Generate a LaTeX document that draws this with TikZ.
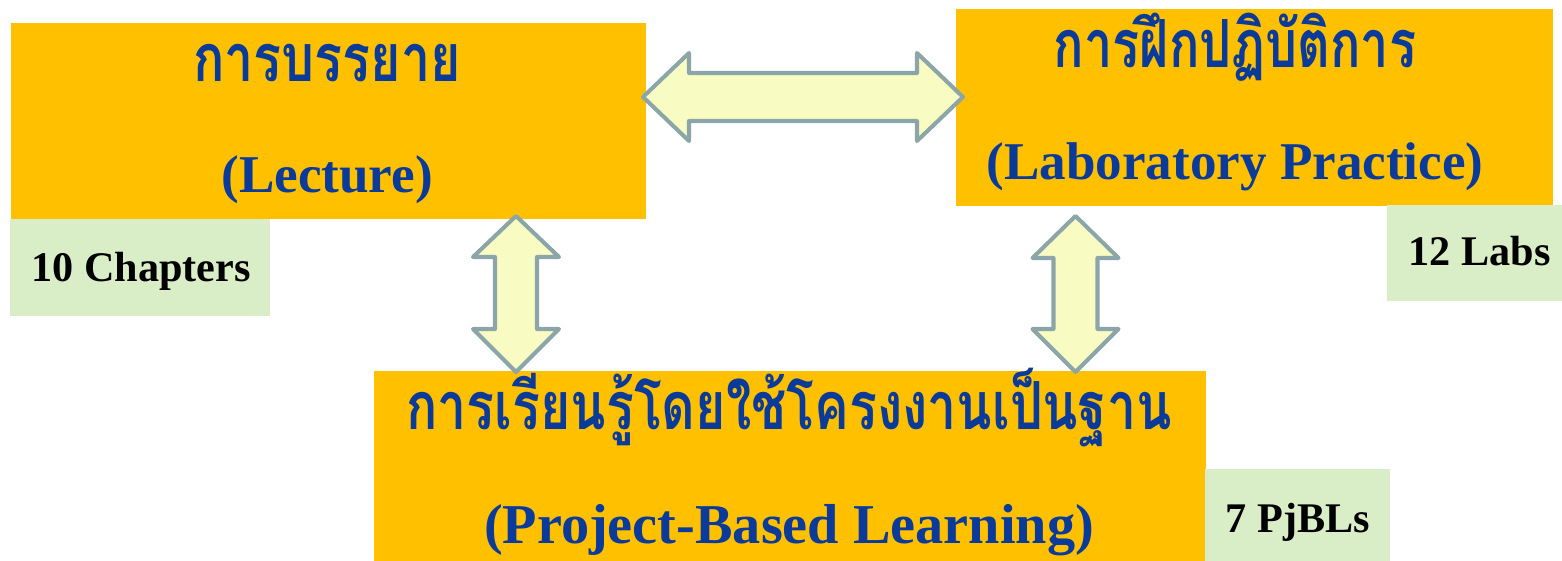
\documentclass[tikz,border=0pt]{standalone}
\usepackage{fontspec}
\setmainfont{Liberation Serif}
\newfontfamily\thaifont[Script=Thai]{Loma}
\definecolor{boxorange}{HTML}{FFC000}
\definecolor{boxgreen}{HTML}{D9EDC6}
\definecolor{arrowfill}{HTML}{F8FCC2}
\definecolor{arrowline}{HTML}{8BA5A8}
\definecolor{titleblue}{HTML}{0A3A9A}
\newcommand{\thstretch}[2]{\scalebox{#1}[1.25]{#2}}
\tikzset{
  obox/.style={fill=boxorange, draw=none, inner sep=0pt, anchor=north west},
  gbox/.style={fill=boxgreen, draw=none, inner sep=0pt, anchor=north west},
  entitle/.style={text=titleblue, font=\fontsize{15.1}{18}\selectfont\bfseries, anchor=base, inner sep=0pt},
  thtitle/.style={text=titleblue, font=\fontsize{15.1}{18}\selectfont\thaifont\bfseries, anchor=base, inner sep=0pt},
  count/.style={text=black, font=\fontsize{12}{14}\selectfont\bfseries, anchor=base west, inner sep=0pt},
  blockarrow/.style={fill=arrowfill, draw=arrowline, line width=1.15pt, line join=round}
}
\begin{document}
\begin{tikzpicture}[x=0.01cm,y=-0.01cm]
\useasboundingbox (0,0) rectangle (1562,561);
% boxes
\node[obox, minimum width=6.35cm, minimum height=1.96cm] (lec) at (10,22) {};
\node[obox, minimum width=5.97cm, minimum height=1.97cm] (lab) at (955,8) {};
\node[obox, minimum width=8.32cm, minimum height=1.91cm] (pbl) at (373,370) {};
\node[gbox, minimum width=2.60cm, minimum height=0.97cm] (lecG) at (9,218) {};
\node[gbox, minimum width=1.76cm, minimum height=0.96cm] (labG) at (1386,204) {};
\node[gbox, minimum width=1.85cm, minimum height=0.93cm] (pblG) at (1204,468) {};
% titles
\node[thtitle] (lecT) at (327,82) {\thstretch{0.98}{การบรรยาย}};
\node[entitle] (lecE) at (327,193) {(Lecture)};
\node[thtitle] (labT) at (1235,68) {\thstretch{0.95}{การฝึกปฏิบัติการ}};
\node[thtitle] (pblT) at (789,430) {\thstretch{0.977}{การเรียนรู้โดยใช้โครงงานเป็นฐาน}};
\node[entitle] (labE) at (1235,180) {(Laboratory Practice)};
\node[entitle, font=\fontsize{16}{19}\selectfont\bfseries] (pblE) at (789,544) {(Project-Based Learning)};
% counts
\node[count] (lecC) at (31,282) {10 Chapters};
\node[count] (labC) at (1408,266) {12 Labs};
\node[count] (pblC) at (1225,533) {7 PjBLs};
% block arrows
\coordinate (hl) at (643,97);
\coordinate (hr) at (963,97);
\draw[blockarrow] (hl) -- ++(46,-44) -- ++(0,20) -- ++(228,0) -- ++(0,-20) -- (hr)
  -- ++(-46,44) -- ++(0,-20) -- ++(-228,0) -- ++(0,20) -- cycle;
\coordinate (vlt) at (516,216);
\coordinate (vlb) at (516,372);
\draw[blockarrow] (vlt) -- ++(43,41) -- ++(-22,0) -- ++(0,72) -- ++(22,0) -- (vlb)
  -- ++(-43,-43) -- ++(22,0) -- ++(0,-72) -- ++(-22,0) -- cycle;
\coordinate (vrt) at (1075.5,216);
\coordinate (vrb) at (1075.5,372);
\draw[blockarrow] (vrt) -- ++(43,42) -- ++(-21,0) -- ++(0,71) -- ++(21,0) -- (vrb)
  -- ++(-43,-43) -- ++(21,0) -- ++(0,-71) -- ++(-21,0) -- cycle;
\end{tikzpicture}
\end{document}
